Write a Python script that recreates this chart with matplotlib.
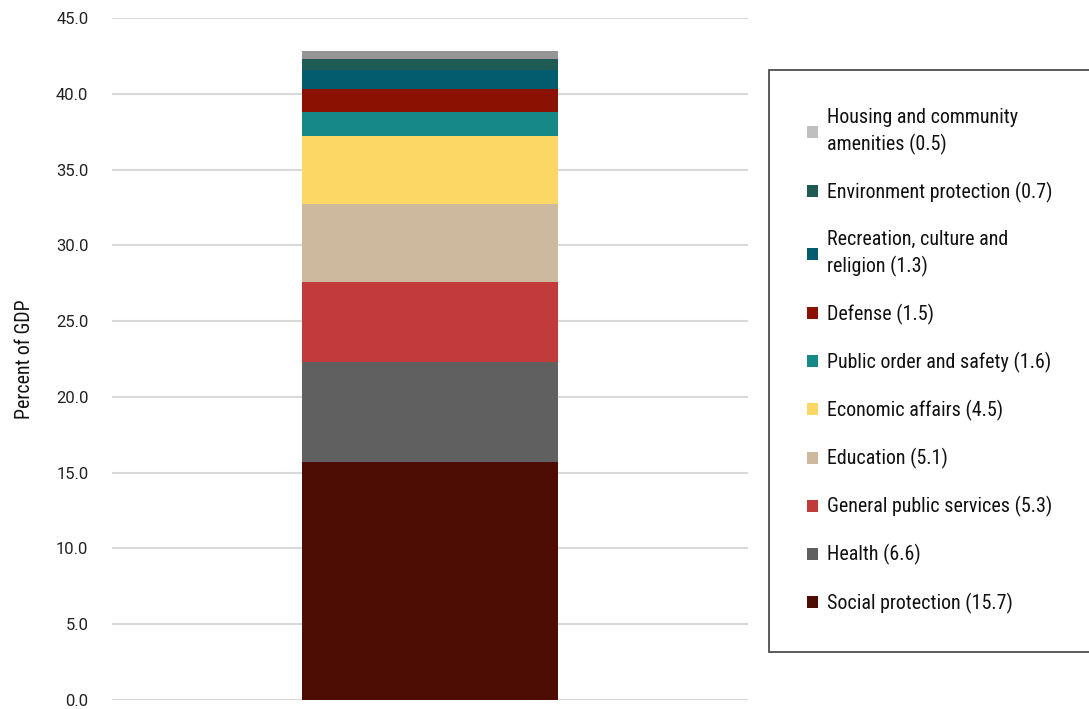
import matplotlib
matplotlib.use("Agg")
import matplotlib.pyplot as plt
from matplotlib.patches import Patch

categories = ["Social protection", "Health", "General public services", "Education",
              "Economic affairs", "Public order and safety", "Defense",
              "Recreation, culture and\nreligion", "Environment protection",
              "Housing and community\namenities"]
values = [15.7, 6.6, 5.3, 5.1, 4.5, 1.6, 1.5, 1.3, 0.7, 0.5]
colors = ["#4D0C04", "#606060", "#C13B3B", "#CDB99E", "#FDD765", "#168887",
          "#8B1202", "#025C6E", "#1E5B55", "#969696"]
legend_colors = colors[:-1] + ["#BFBFBF"]
yticks = [0, 5, 10, 15, 20, 25, 30, 35, 40, 45]

narrow = ["Roboto Condensed", "DejaVu Sans"]
tickfont = ["Roboto", "DejaVu Sans"]

fig = plt.figure(figsize=(10.89, 7.09), dpi=100)
ax = fig.add_axes([112/1089, 1-700/709, (748-112)/1089, (700-18)/709])

bottom = 0
for v, c in zip(values, colors):
    ax.bar(0, v, bottom=bottom, width=0.401, color=c, zorder=3)
    bottom += v

ax.set_xlim(-0.5, 0.5)
ax.set_ylim(0, 45)
ax.set_yticks(yticks)
ax.set_yticklabels([f"{t:.1f}" for t in yticks], fontfamily=tickfont, fontsize=12, color="#222222")
ax.set_xticks([])
ax.tick_params(axis="y", length=0, pad=17)
for s in ax.spines.values():
    s.set_visible(False)
ax.grid(axis="y", color="#D9D9D9", linewidth=1.5, zorder=0)
ax.set_ylabel("Percent of GDP", fontfamily=narrow, fontsize=14.3, color="#111111", labelpad=16)

handles = [Patch(facecolor=c, edgecolor="none") for c in legend_colors[::-1]]
labels = [f"{n} ({v})" for n, v in zip(categories[::-1], values[::-1])]
leg = fig.legend(handles, labels, loc="upper left", bbox_to_anchor=(769/1089, 1-70/709),
                 frameon=True, fancybox=False, prop={"family": narrow, "size": 14.4},
                 labelspacing=1.35, handlelength=0.55, handleheight=0.55, handletextpad=0.44,
                 borderpad=1.9, borderaxespad=0)
fr = leg.get_frame()
fr.set_edgecolor("#222222")
fr.set_linewidth(1.3)
for t in leg.get_texts():
    t.set_color("#111111")
    t.set_linespacing(1.42)

fig.savefig("out.png", dpi=100)
